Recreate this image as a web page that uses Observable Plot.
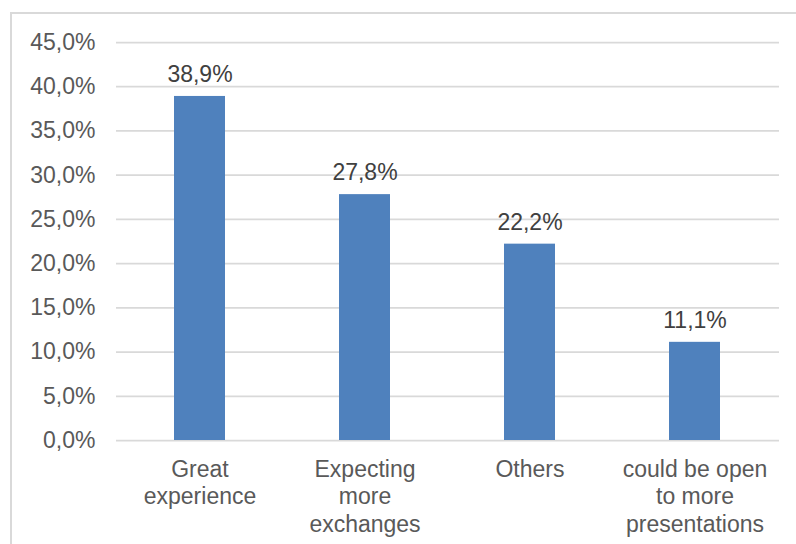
<!DOCTYPE html>
<html>
<head>
<meta charset="utf-8">
<script src="https://cdn.jsdelivr.net/npm/d3@7"></script>
<script src="https://cdn.jsdelivr.net/npm/@observablehq/plot@0.6"></script>
<style>
  html, body { margin: 0; padding: 0; background: #fff; }
  #wrap { position: relative; width: 796px; height: 544px; overflow: hidden; }
  #frame { position: absolute; left: 10px; top: 12px; width: 800px; height: 540px; border: 2px solid #d9d9d9; box-sizing: border-box; }
  #chart { position: absolute; left: 0; top: 0; }
</style>
</head>
<body>
<div id="wrap"><div id="frame"></div><div id="chart"></div></div>
<script>
const categories = ["Great experience", "Expecting more exchanges", "Others", "could be open to more presentations"];
const categoryLabels = ["Great\nexperience", "Expecting\nmore\nexchanges", "Others", "could be open\nto more\npresentations"];
const values = [0.389, 0.278, 0.222, 0.111];
const yTicks = [0, 0.05, 0.10, 0.15, 0.20, 0.25, 0.30, 0.35, 0.40, 0.45];

const data = categories.map((c, i) => ({category: c, label: categoryLabels[i], value: values[i]}));
const pct = v => d3.format(".1%")(v).replace(".", ",");
const labelOf = new Map(data.map(d => [d.category, d.label]));

const chart = Plot.plot({
  width: 796,
  height: 544,
  marginLeft: 116,
  marginRight: 17,
  marginTop: 42,
  marginBottom: 104,
  style: {fontFamily: "'Liberation Sans', Arial, sans-serif", fontSize: "23px", background: "transparent"},
  x: {domain: categories, paddingInner: 0.69, paddingOuter: 0.345, label: null},
  y: {domain: [0, 0.45], label: null},
  marks: [
    Plot.gridY(yTicks, {stroke: "#d9d9d9", strokeOpacity: 1, strokeWidth: 1.75}),
    Plot.barY(data, {x: "category", y: "value", fill: "#4f81bd"}),
    Plot.text(data, {x: "category", y: "value", text: d => pct(d.value), dy: -22, fill: "#404040", fontSize: 23}),
    Plot.axisY(yTicks, {tickSize: 0, tickPadding: 21, tickFormat: pct, fill: "#595959", fontSize: 23, label: null}),
    Plot.axisX({tickSize: 0, tickPadding: 17, tickFormat: c => labelOf.get(c), fill: "#595959", fontSize: 23, lineHeight: 1.19, label: null})
  ]
});
document.getElementById("chart").appendChild(chart);
</script>
</body>
</html>
